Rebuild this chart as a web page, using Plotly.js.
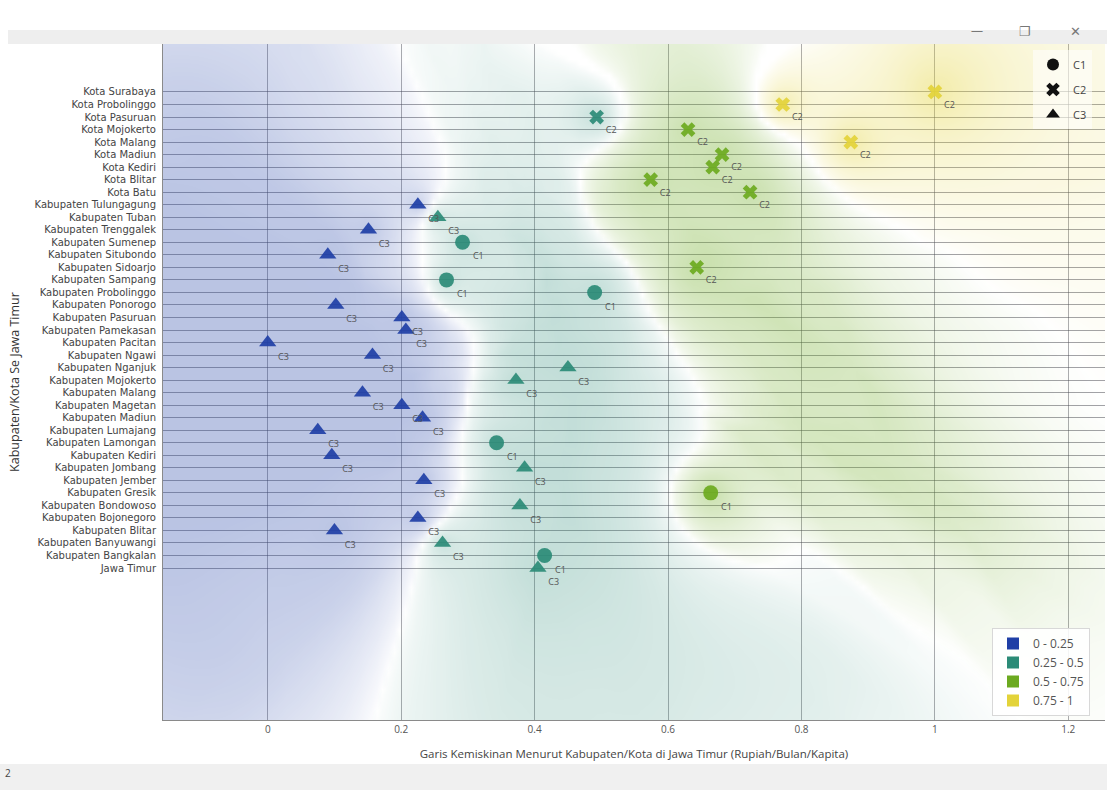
<!DOCTYPE html>
<html><head><meta charset="utf-8">
<script src="https://cdn.plot.ly/plotly-3.0.1.min.js"></script>
<style>html,body{margin:0;padding:0;background:#fff;} #chart{width:1107px;height:790px;}</style>
</head><body><div id="chart"></div>
<script>
// ---------- data ----------
const categories = ["Kota Surabaya","Kota Probolinggo","Kota Pasuruan","Kota Mojokerto","Kota Malang","Kota Madiun","Kota Kediri","Kota Blitar","Kota Batu","Kabupaten Tulungagung","Kabupaten Tuban","Kabupaten Trenggalek","Kabupaten Sumenep","Kabupaten Situbondo","Kabupaten Sidoarjo","Kabupaten Sampang","Kabupaten Probolinggo","Kabupaten Ponorogo","Kabupaten Pasuruan","Kabupaten Pamekasan","Kabupaten Pacitan","Kabupaten Ngawi","Kabupaten Nganjuk","Kabupaten Mojokerto","Kabupaten Malang","Kabupaten Magetan","Kabupaten Madiun","Kabupaten Lumajang","Kabupaten Lamongan","Kabupaten Kediri","Kabupaten Jombang","Kabupaten Jember","Kabupaten Gresik","Kabupaten Bondowoso","Kabupaten Bojonegoro","Kabupaten Blitar","Kabupaten Banyuwangi","Kabupaten Bangkalan","Jawa Timur"];
const garisKemiskinan = [1.000,0.772,0.493,0.630,0.874,0.681,0.667,0.574,0.723,0.225,0.255,0.151,0.292,0.090,0.643,0.268,0.490,0.102,0.201,0.207,0.000,0.157,0.450,0.372,0.142,0.201,0.232,0.075,0.343,0.096,0.385,0.234,0.664,0.378,0.225,0.100,0.262,0.415,0.405];
const cluster = ["C2","C2","C2","C2","C2","C2","C2","C2","C2","C3","C3","C3","C1","C3","C2","C1","C1","C3","C3","C3","C3","C3","C3","C3","C3","C3","C3","C3","C1","C3","C3","C3","C1","C3","C3","C3","C3","C1","C3"];
const clusterNames = ["C1","C2","C3"];
const binEdges = [0, 0.25, 0.5, 0.75, 1];
const binLabels = ["0 - 0.25","0.25 - 0.5","0.5 - 0.75","0.75 - 1"];
const xTicks = [0, 0.2, 0.4, 0.6, 0.8, 1, 1.2];

// ---------- styles ----------
const clusterSymbols = ["circle","x","triangle-up"];
const clusterSizes = [15, 13, 15];
const binColors = ["#1f3fa6","#2b8b77","#6caa20","#e3d33a"];
const binRGB = [[31,63,166],[43,139,119],[108,170,32],[227,211,58]];
const binAlpha = [0.31, 0.29, 0.38, 0.45];
const xRange = [-0.157, 1.255];
const yRange = [50.13, -3.83];
const plotW = 942, plotH = 676;

function binOf(v){
  for (let k = 0; k < binLabels.length; k++) if (v < binEdges[k+1]) return k;
  return binLabels.length - 1;
}
const ptBin = garisKemiskinan.map(binOf);
const ptY = categories.map((_, i) => i);

// ---------- class-region background (distance-weighted kNN over the data points) ----------
const pxX = plotW / (xRange[1] - xRange[0]);
const pxY = plotH / Math.abs(yRange[0] - yRange[1]);
const nx = 170, ny = 130, K = 10;
const gx = [], gy = [];
for (let i = 0; i < nx; i++) gx.push(xRange[0] - 0.01 + (xRange[1] - xRange[0] + 0.02) * i / (nx - 1));
for (let j = 0; j < ny; j++) gy.push(yRange[1] - 0.5 + (yRange[0] - yRange[1] + 1) * j / (ny - 1));
const zs = binLabels.map(() => []);
for (let j = 0; j < ny; j++) {
  const rows = binLabels.map(() => []);
  for (let i = 0; i < nx; i++) {
    const d = garisKemiskinan.map((v, p) => {
      const dx = (gx[i] - v) * pxX, dy = (gy[j] - ptY[p]) * pxY;
      return [Math.sqrt(dx*dx + dy*dy), ptBin[p]];
    }).sort((a, b) => a[0] - b[0]);
    const dk = d[K][0] + 1e-9;
    const s = binLabels.map(() => 0); let tot = 0;
    for (let n = 0; n < K; n++) {
      const r = d[n][0] / dk;
      const taper = Math.min(1, Math.max(0, (1 - r) / 0.3));
      const w = taper / Math.pow(d[n][0] + 6, 1.5);
      s[d[n][1]] += w; tot += w;
    }
    const fade = Math.exp(-Math.pow(Math.max(0, d[0][0] - 150) / 250, 2));
    for (let c = 0; c < binLabels.length; c++) {
      const p = tot > 0 ? s[c] / tot : 0;
      const st = Math.max(0, (p - 0.5) / 0.5);
      rows[c].push(Math.pow(st, 0.65) * fade);
    }
  }
  for (let c = 0; c < binLabels.length; c++) zs[c].push(rows[c]);
}

const traces = [];
binLabels.forEach((lab, c) => {
  const [r, g, b] = binRGB[c];
  traces.push({
    type: 'heatmap', x: gx, y: gy, z: zs[c], zmin: 0, zmax: 1, zsmooth: 'best',
    colorscale: [[0, `rgba(${r},${g},${b},0)`], [1, `rgba(${r},${g},${b},${binAlpha[c]})`]],
    showscale: false, hoverinfo: 'skip', showlegend: false
  });
});

// ---------- points ----------
clusterNames.forEach((cn, ci) => {
  const idx = ptY.filter(i => cluster[i] === cn);
  traces.push({
    type: 'scatter', mode: 'markers+text', showlegend: false,
    x: idx.map(i => garisKemiskinan[i]), y: idx,
    text: idx.map(i => cluster[i]), textposition: 'bottom right',
    textfont: {size: 9, color: '#555', family: 'Open Sans, sans-serif'},
    marker: {symbol: clusterSymbols[ci], size: clusterSizes[ci], opacity: 0.92,
             color: idx.map(i => binColors[ptBin[i]]), line: {width: 0}},
    hovertext: idx.map(i => categories[i]), hoverinfo: 'text+x'
  });
});

// ---------- legends ----------
clusterNames.forEach((cn, ci) => {
  traces.push({type: 'scatter', mode: 'markers', x: [null], y: [null], name: cn,
    legend: 'legend', legendgroup: 'g' + ci,
    marker: {symbol: clusterSymbols[ci], size: 11, color: '#111'}});
});
binLabels.forEach((lab, c) => {
  traces.push({type: 'scatter', mode: 'markers', x: [null], y: [null], name: lab,
    legend: 'legend2',
    marker: {symbol: 'square', size: 16, color: binColors[c]}});
});

const px2x = p => (p - 163) / plotW;
const px2y = p => (720 - p) / plotH;

const layout = {
  width: 1107, height: 790,
  margin: {l: 163, r: 2, t: 44, b: 70, pad: 0},
  paper_bgcolor: '#ffffff', plot_bgcolor: '#ffffff',
  font: {family: '"Open Sans", "Liberation Sans", sans-serif', color: '#444', size: 10},
  xaxis: {
    range: xRange, tickvals: xTicks, ticks: '', showgrid: true,
    gridcolor: 'rgba(70,70,80,0.45)', gridwidth: 1, zeroline: false,
    showline: true, linecolor: '#8a8a8a', automargin: false,
    tickfont: {size: 10, color: '#555'},
    title: {text: 'Garis Kemiskinan Menurut Kabupaten/Kota di Jawa Timur (Rupiah/Bulan/Kapita)',
            font: {size: 11.5, color: '#444'}, standoff: 14}
  },
  yaxis: {
    range: yRange, tickvals: ptY, ticktext: categories, ticks: '', showgrid: true,
    gridcolor: 'rgba(70,70,80,0.5)', gridwidth: 1, zeroline: false,
    showline: true, linecolor: '#8a8a8a', automargin: false, ticklabelstandoff: 4,
    tickfont: {size: 10, color: '#444', family: '"DejaVu Sans", sans-serif'},
    title: {text: 'Kabupaten/Kota Se Jawa Timur', font: {size: 12.5, color: '#333'}, standoff: 12}
  },
  legend: {x: px2x(1033), y: px2y(50), xanchor: 'left', yanchor: 'top',
    bgcolor: 'rgba(255,255,255,0.55)', borderwidth: 0, tracegroupgap: 6,
    font: {size: 11, color: '#444'}, itemsizing: 'constant', itemwidth: 30},
  legend2: {x: px2x(992), y: px2y(716), xanchor: 'left', yanchor: 'bottom',
    bgcolor: 'rgba(255,255,255,0.88)', bordercolor: '#d8d8d8', borderwidth: 1,
    font: {size: 12, color: '#555'}, itemsizing: 'constant', itemwidth: 30, tracegroupgap: 0},
  shapes: [
    {type: 'rect', xref: 'paper', yref: 'paper', x0: px2x(8), x1: px2x(1107), y0: px2y(44), y1: px2y(30),
     fillcolor: '#eeeeee', line: {width: 0}},
    {type: 'rect', xref: 'paper', yref: 'paper', x0: px2x(0), x1: px2x(1107), y0: px2y(790), y1: px2y(764),
     fillcolor: '#f0f0f0', line: {width: 0}}
  ],
  annotations: [
    {xref: 'paper', yref: 'paper', x: px2x(985), y: px2y(20), text: '—', showarrow: false, font: {size: 12, color: '#777'}},
    {xref: 'paper', yref: 'paper', x: px2x(1033), y: px2y(20), text: '❐', showarrow: false, font: {size: 13, color: '#777'}},
    {xref: 'paper', yref: 'paper', x: px2x(1083), y: px2y(20), text: '✕', showarrow: false, font: {size: 13, color: '#777'}},
    {xref: 'paper', yref: 'paper', x: px2x(3), y: px2y(782), xanchor: 'left', text: '2', showarrow: false, font: {size: 10, color: '#444'}}
  ]
};

Plotly.newPlot('chart', traces, layout, {displayModeBar: false, staticPlot: true});
</script></body></html>
